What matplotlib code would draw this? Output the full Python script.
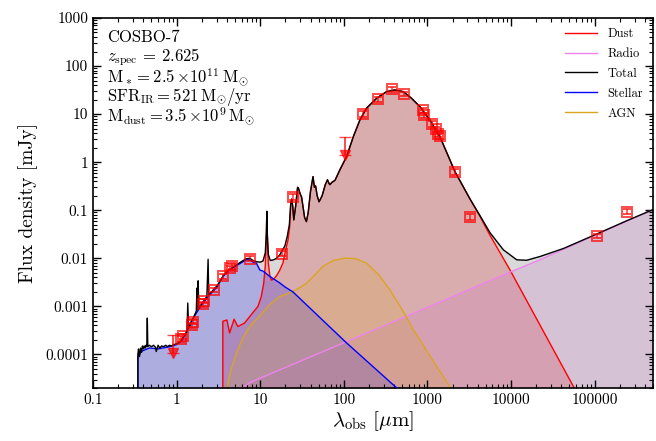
import matplotlib

matplotlib.use("Agg")
import matplotlib.pyplot as plt
from matplotlib.ticker import FuncFormatter, LogLocator, NullFormatter

plt.rcParams["font.family"] = ["cmr10"]
plt.rcParams["mathtext.fontset"] = "cm"
plt.rcParams["axes.formatter.use_mathtext"] = True

# --- model components (wavelength in um, flux in mJy) ---
stellar_wl = [0.344, 0.344, 0.378, 0.42, 0.475, 0.6, 0.686, 0.864, 1.0, 1.14, 1.31,
              1.5, 1.88, 2.37, 2.98, 3.59, 4.3, 5.4, 6.8, 7.5, 8.2, 9.0, 9.9, 10.8,
              13.0, 17.0, 20.0, 24.6, 108, 430, 500]
stellar_flux = [1e-8, 9e-5, 1.15e-4, 1.25e-4, 1.36e-4, 1.3e-4, 1.36e-4, 1.47e-4, 1.6e-4,
                1.86e-4, 2.8e-4, 4.9e-4, 9.2e-4, 1.6e-3, 2.4e-3, 4.2e-3, 5.75e-3, 7.3e-3,
                9.3e-3, 9.3e-3, 8.3e-3, 7.9e-3, 5.7e-3, 5.4e-3, 4.2e-3, 3.1e-3, 2.5e-3,
                2.0e-3, 1.73e-4, 2e-5, 1.5e-5]

dust_wl = [3.57, 3.57, 4.0, 4.3, 4.87, 5.4, 6.5, 7.8, 9.4, 10.3, 11.0, 11.5, 11.85, 12.0,
           12.15, 12.5, 13.0, 13.6, 14.5, 15.6, 17.0, 18.7, 20.0, 21.5, 22.5, 23.2, 23.8,
           24.5, 25.2, 26.5, 28.0, 28.8, 30.0, 31.2, 32.5, 34.0, 35.7, 37.5, 40.0, 42.8,
           44.5, 46.0, 48.0, 50.6, 55.0, 60.0, 63.8, 66.0, 68.0, 72.0, 78.5, 89.6, 108,
           130, 156, 187, 247, 325, 408, 513, 645, 813, 1070, 1410, 2140, 3240, 4260,
           5610, 9730, 60000]
dust_flux = [1e-8, 4.9e-4, 5.2e-4, 2.8e-4, 5.4e-4, 3.8e-4, 4.5e-4, 6.7e-4, 1.0e-3, 1.6e-3,
             3.0e-3, 7e-3, 0.03, 0.094, 0.03, 8e-3, 4.5e-3, 3.5e-3, 3.7e-3, 4.3e-3, 5.5e-3,
             8e-3, 0.014, 0.024, 0.045, 0.14, 0.17, 0.12, 0.063, 0.12, 0.30, 0.28, 0.22,
             0.19, 0.12, 0.07, 0.058, 0.09, 0.25, 0.50, 0.30, 0.32, 0.20, 0.15, 0.20, 0.34,
             0.43, 0.37, 0.34, 0.38, 0.42, 0.69, 1.31, 3.4, 7.6, 13.3, 21.4, 29.4, 31.8,
             29.4, 21.4, 14.3, 7.6, 3.4, 0.63, 0.17, 0.074, 0.03, 0.0057, 1.7e-5]

agn_wl = [3.95, 4.0, 4.5, 5.2, 6.2, 7.5, 10.0, 13.0, 17.0, 22.6, 28.0, 35.7, 45.0, 56.5,
          75.0, 103, 140, 187, 260, 356, 500, 676, 950, 1290, 1900, 2300]
agn_flux = [1e-8, 2e-5, 5e-5, 1.07e-4, 2.2e-4, 3.8e-4, 6.5e-4, 1.08e-3, 1.6e-3, 1.9e-3,
            2.3e-3, 3.0e-3, 4.5e-3, 6.8e-3, 9.0e-3, 0.0101, 9.8e-3, 7.9e-3, 4.6e-3, 2.2e-3,
            8.5e-4, 3.3e-4, 1.3e-4, 5.6e-5, 2e-5, 1e-5]

radio_wl = [5.5, 6.2, 7.5, 1860, 7380, 22200, 513000]
radio_flux = [1.8e-5, 2.0e-5, 2.6e-5, 1.5e-3, 4.2e-3, 9.3e-3, 0.105]

# total: optical/NIR part (stellar + lines), then dust-dominated, then mm/radio part
total_opt_wl = [0.344, 0.344, 0.35, 0.36, 0.37, 0.38, 0.39, 0.40, 0.41, 0.42, 0.43, 0.44,
                0.446, 0.452, 0.47, 0.50, 0.53, 0.56, 0.57, 0.60, 0.63, 0.66, 0.70, 0.74,
                0.78, 0.82, 0.87, 0.92, 0.98, 1.05, 1.12, 1.20, 1.27, 1.33, 1.36, 1.39,
                1.45, 1.50, 1.55, 1.60, 1.66, 1.72, 1.75, 1.78, 1.81, 1.84, 1.90, 2.0, 2.1,
                2.2, 2.3, 2.38, 2.42, 2.5, 2.65, 2.8, 3.0, 3.3, 3.6, 4.0, 4.4, 4.9, 5.4,
                6.0, 6.8, 7.5, 8.2, 9.0, 10.0, 10.8, 11.5, 11.85, 12.0, 12.15, 12.5, 13.2,
                14.5, 15.6, 17.0, 18.0, 19.7, 21.0, 22.3]
total_opt_flux = [1e-8, 1.0e-4, 1.3e-4, 0.9e-4, 1.35e-4, 1.1e-4, 1.5e-4, 1.3e-4, 1.5e-4,
                  1.35e-4, 1.55e-4, 1.45e-4, 5.7e-4, 1.45e-4, 1.55e-4, 1.45e-4, 1.55e-4,
                  1.4e-4, 1.15e-4, 1.55e-4, 1.35e-4, 1.5e-4, 1.45e-4, 1.55e-4, 1.45e-4,
                  1.55e-4, 1.5e-4, 1.6e-4, 1.65e-4, 1.75e-4, 1.9e-4, 2.3e-4, 2.6e-4, 3.2e-4,
                  1.17e-3, 3.5e-4, 4.0e-4, 4.8e-4, 5.3e-4, 6.0e-4, 7.0e-4, 8.0e-4, 2.4e-3,
                  8.5e-4, 3.4e-3, 9.5e-4, 1.0e-3, 1.15e-3, 1.3e-3, 1.45e-3, 1.6e-3, 9.5e-3,
                  1.75e-3, 1.85e-3, 2.05e-3, 2.3e-3, 2.6e-3, 3.3e-3, 4.3e-3, 5.3e-3, 6.0e-3,
                  6.8e-3, 7.6e-3, 8.6e-3, 9.8e-3, 1.0e-2, 9.0e-3, 8.5e-3, 8.3e-3, 8.8e-3,
                  0.013, 0.035, 0.095, 0.034, 0.012, 9.0e-3, 9.3e-3, 1.0e-2, 1.15e-2,
                  1.38e-2, 1.8e-2, 0.028, 0.05]
total_mm_wl = [4260, 5610, 8100, 11700, 15400, 22300, 42400, 106000, 240000, 513000]
total_mm_flux = [0.077, 0.034, 0.015, 0.0093, 0.0091, 0.0109, 0.016, 0.032, 0.060, 0.105]

# photometry
det_wl = [1.12, 1.2, 1.53, 1.58, 2.05, 2.15, 2.8, 3.59, 4.3, 4.6, 7.5, 18.4, 24.6,
          168, 258, 372, 524, 880, 910, 1150, 1260, 1350, 1400, 2140, 3240, 106000, 243000]
det_flux = [2.1e-4, 2.4e-4, 4.0e-4, 4.8e-4, 1.1e-3, 1.3e-3, 2.2e-3, 4.2e-3, 6.3e-3, 6.8e-3,
            9.8e-3, 0.0124, 0.19, 10.1, 20.4, 33, 26.3, 12.0, 9.5, 6.3, 4.9, 3.9, 3.5, 0.63,
            0.074, 0.0294, 0.094]
det_err = [0.3e-4, 0.3e-4, 0.5e-4, 0.6e-4, 1.5e-4, 1.5e-4, 2.5e-4, 5e-4, 7e-4, 7e-4,
           1.2e-3, 1.5e-3, 0.025, 1.3, 2.5, 3.5, 3.0, 1.5, 1.2, 0.8, 0.6, 0.5, 0.45, 0.08,
           0.01, 0.003, 0.01]
ul_wl = [0.90, 103]
ul_flux = [2.5e-4, 3.3]

FLOOR = 1e-9
ARROW = 0.42  # arrow tip as fraction of the limit

fig = plt.figure(figsize=(6.56, 4.41), dpi=100)
ax = fig.add_axes([0.1418, 0.1202, 0.8537, 0.839])

total_wl = total_opt_wl + [w for w in dust_wl if 23 < w < 3500] + total_mm_wl
total_flux = (total_opt_flux
              + [f for w, f in zip(dust_wl, dust_flux) if 23 < w < 3500]
              + total_mm_flux)

components = [
    (dust_wl, dust_flux, "red", "Dust", 2),
    (radio_wl, radio_flux, "violet", "Radio", 2),
    (total_wl, total_flux, "black", "Total", 4),
    (stellar_wl, stellar_flux, "blue", "Stellar", 3),
    (agn_wl, agn_flux, "goldenrod", "AGN", 2),
]
for wl, fl, col, lab, z in components:
    fill_alpha = 0.15 if lab == "Total" else 0.2
    ax.fill_between(wl, fl, FLOOR, color=col, alpha=fill_alpha, lw=0, zorder=1)
    ax.plot(wl, fl, color=col, lw=1.0, label=lab, zorder=z)

ax.errorbar(det_wl, det_flux, yerr=det_err, fmt="s", ms=7.5, mfc="none", mec="red",
            mew=1.4, ecolor="red", elinewidth=1.2, capsize=3, alpha=0.7, zorder=5)
ax.errorbar(ul_wl, ul_flux, yerr=[[f * (1 - ARROW) for f in ul_flux], [0] * len(ul_flux)],
            fmt="none", ecolor="red", elinewidth=1.4, capsize=4, alpha=0.7, zorder=5)
ax.plot(ul_wl, [f * ARROW for f in ul_flux], "v", color="red", ms=7, alpha=0.7, zorder=5)

ax.set_xscale("log")
ax.set_yscale("log")
ax.set_xlim(0.1, 5e5)
ax.set_ylim(2e-5, 1000)

fmt = FuncFormatter(lambda v, _: "{:g}".format(v))
ax.xaxis.set_major_formatter(fmt)
ax.yaxis.set_major_formatter(fmt)
ax.xaxis.set_minor_formatter(NullFormatter())
ax.yaxis.set_minor_formatter(NullFormatter())
ax.xaxis.set_major_locator(LogLocator(base=10, numticks=20))
ax.yaxis.set_major_locator(LogLocator(base=10, numticks=20))
ax.xaxis.set_minor_locator(LogLocator(base=10, subs=range(2, 10), numticks=50))
ax.yaxis.set_minor_locator(LogLocator(base=10, subs=range(2, 10), numticks=50))
ax.tick_params(which="both", direction="in", top=True, right=True, labelsize=11)
ax.tick_params(which="major", length=6, width=1.0)
ax.tick_params(which="minor", length=3, width=0.8)
for sp in ax.spines.values():
    sp.set_linewidth(1.2)

ax.set_xlabel(r"$\lambda_{\rm obs}\ [\mu{\rm m}]$", fontsize=15, labelpad=2)
ax.set_ylabel("Flux density [mJy]", fontsize=14, labelpad=5)

info = [
    "COSBO-7",
    r"$z_{\rm spec}$ = 2.625",
    r"$\rm M_* = 2.5\,{\times}10^{11}\,M_{\odot}$",
    r"$\rm SFR_{IR} = 521\,M_{\odot}/yr$",
    r"$\rm M_{dust} = 3.5\,{\times}10^{9}\,M_{\odot}$",
]
for i, line in enumerate(info):
    ax.text(0.025, 0.948 - i * 0.0535, line, transform=ax.transAxes, fontsize=12,
            va="center", ha="left")

ax.legend(loc="upper right", frameon=False, fontsize=9, handlelength=2.6,
          borderaxespad=0.4, labelspacing=0.62)

fig.savefig("out.png", dpi=100)
